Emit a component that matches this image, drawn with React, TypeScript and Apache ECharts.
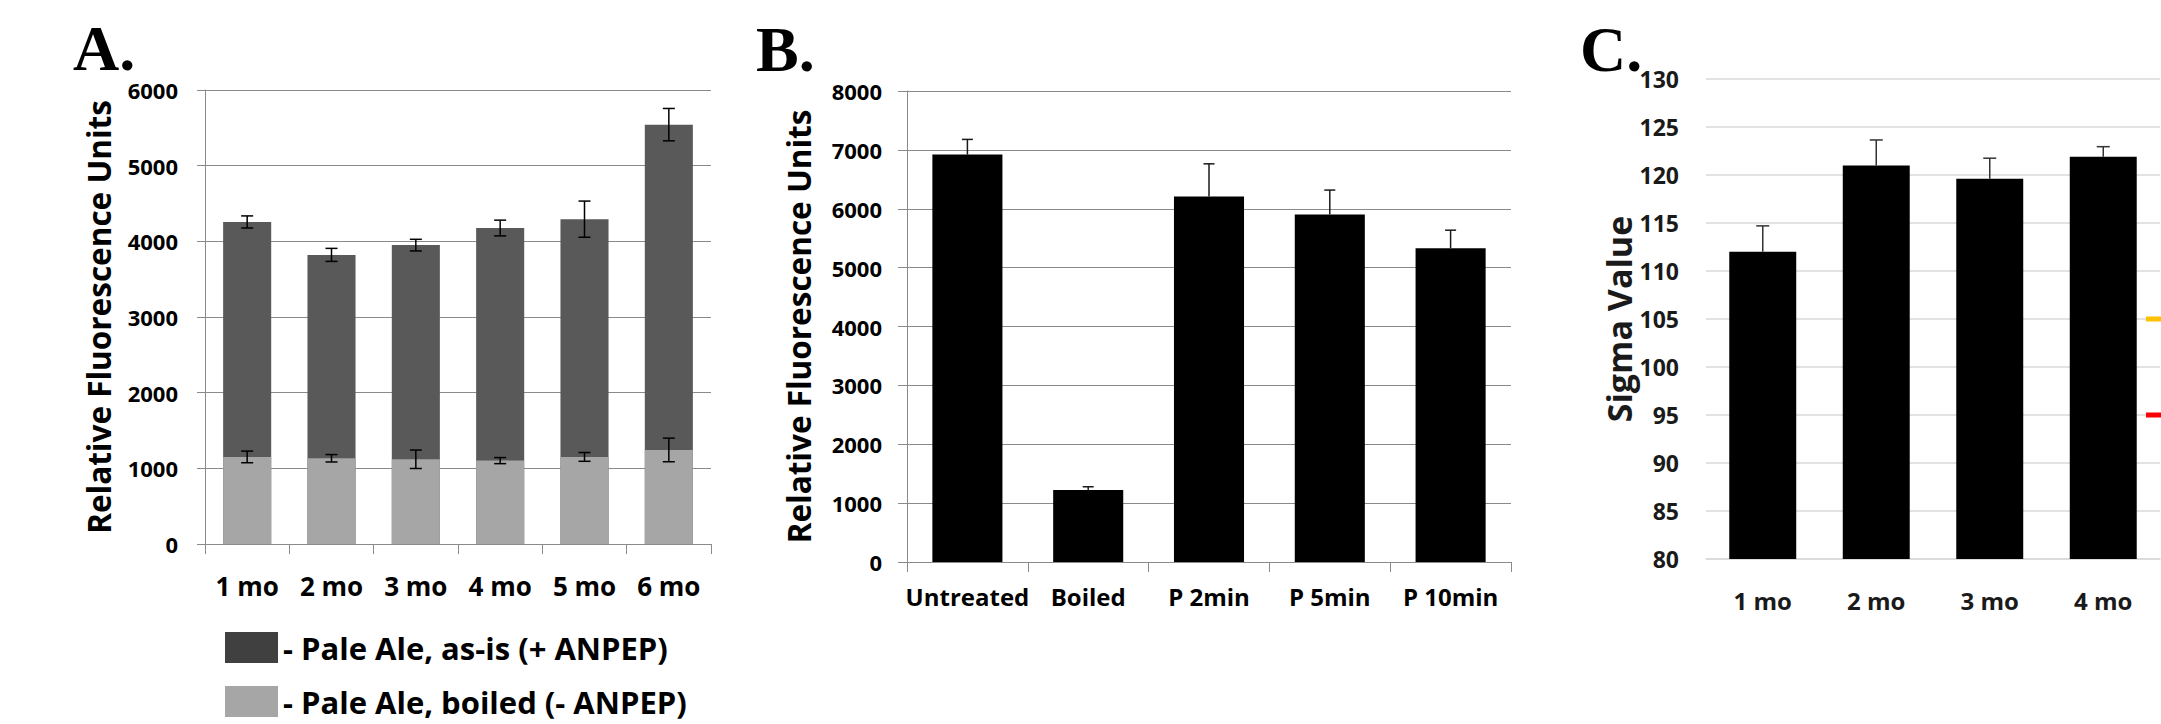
import React, { useEffect, useRef } from 'react';
import * as echarts from 'echarts';

// ---- Panel A data ----
const monthsA = ['1 mo', '2 mo', '3 mo', '4 mo', '5 mo', '6 mo'];
const asIsValues = [4256, 3821, 3950, 4176, 4293, 5542];
const asIsErrors = [80, 86, 77, 104, 239, 214];
const boiledValues = [1151, 1133, 1120, 1102, 1151, 1243];
const boiledErrors = [77, 49, 122, 40, 58, 156];
const legendNames = ['- Pale Ale, as-is (+ ANPEP)', '- Pale Ale, boiled (- ANPEP)'];
const legendColors = ['#404040', '#a6a6a6'];

// ---- Panel B data ----
const treatmentsB = ['Untreated', 'Boiled', 'P 2min', 'P 5min', 'P 10min'];
const rfuB = [6920, 1221, 6207, 5902, 5331];
const rfuErrB = [258, 57, 556, 415, 305];

// ---- Panel C data ----
const monthsC = ['1 mo', '2 mo', '3 mo', '4 mo'];
const sigmaC = [112.0, 121.0, 119.6, 121.9];
const sigmaErrC = [2.7, 2.65, 2.15, 1.05];
const thresholdsC = [105, 95];
const thresholdColors = ['#ffc000', '#ff0000'];

const panelLetters = ['A.', 'B.', 'C.'];

const FONT = "'Open Sans', 'DejaVu Sans', sans-serif";
const SERIF = "'Liberation Serif', 'DejaVu Serif', serif";
const GRAY = '#8a8a8a';
const LIGHTGRID = '#d9d9d9';

function errorRenderer(cap: number, both: boolean, color: string, width: number) {
  return (params: any, api: any) => {
    const i = api.value(0);
    const lo = api.coord([i, api.value(1)]);
    const hi = api.coord([i, api.value(2)]);
    const style = { stroke: color, lineWidth: width };
    const children: any[] = [
      { type: 'line', shape: { x1: lo[0], y1: lo[1], x2: hi[0], y2: hi[1] }, style },
      { type: 'line', shape: { x1: hi[0] - cap / 2, y1: hi[1], x2: hi[0] + cap / 2, y2: hi[1] }, style },
    ];
    if (both) {
      children.push({ type: 'line', shape: { x1: lo[0] - cap / 2, y1: lo[1], x2: lo[0] + cap / 2, y2: lo[1] }, style });
    }
    return { type: 'group', children };
  };
}

const labelStyle = (size: number, color = '#000') => ({
  fontFamily: FONT,
  fontWeight: 'bold' as const,
  fontSize: size,
  color,
});

const plain = (v: number) => String(v);

export default function App() {
  const ref = useRef<HTMLDivElement>(null);

  useEffect(() => {
    if (!ref.current) return;
    const chart = echarts.init(ref.current, undefined, { renderer: 'svg' });

    const legendTops = [632, 686];
    const option: any = {
      animation: false,
      backgroundColor: '#ffffff',
      legend: legendNames.map((name, i) => ({
        orient: 'vertical',
        left: 225,
        top: legendTops[i],
        padding: 0,
        itemWidth: 53,
        itemHeight: 31,
        icon: 'rect',
        selectedMode: false,
        textStyle: { ...labelStyle(31), lineHeight: 31 },
        data: [{ name, itemStyle: { color: legendColors[i] } }],
      })),
      grid: [
        { left: 205, top: 90, width: 506, height: 454 },
        { left: 907, top: 91, width: 604, height: 471 },
        { left: 1706, top: 79, width: 454, height: 480 },
      ],
      xAxis: [
        {
          gridIndex: 0,
          type: 'category',
          data: monthsA,
          axisLine: { lineStyle: { color: GRAY, width: 1 } },
          axisTick: { show: true, length: 10, lineStyle: { color: GRAY } },
          axisLabel: { ...labelStyle(26), margin: 29, interval: 0 },
        },
        {
          gridIndex: 1,
          type: 'category',
          data: treatmentsB,
          axisLine: { lineStyle: { color: GRAY, width: 1 } },
          axisTick: { show: true, length: 10, lineStyle: { color: GRAY } },
          axisLabel: { ...labelStyle(24), margin: 22, interval: 0 },
        },
        {
          gridIndex: 2,
          type: 'category',
          data: monthsC,
          axisLine: { show: true, lineStyle: { color: LIGHTGRID, width: 1.5 } },
          axisTick: { show: false },
          axisLabel: { ...labelStyle(24, '#1a1a1a'), margin: 29, interval: 0 },
        },
      ],
      yAxis: [
        {
          gridIndex: 0,
          type: 'value',
          min: 0,
          max: 6000,
          interval: 1000,
          axisLine: { show: true, lineStyle: { color: GRAY, width: 1 } },
          axisTick: { show: true, length: 8, lineStyle: { color: GRAY } },
          splitLine: { lineStyle: { color: GRAY, width: 1 } },
          axisLabel: { ...labelStyle(22), margin: 27, formatter: plain },
          name: 'Relative Fluorescence Units',
          nameLocation: 'middle',
          nameGap: 91,
          nameTextStyle: labelStyle(31.5),
        },
        {
          gridIndex: 1,
          type: 'value',
          min: 0,
          max: 8000,
          interval: 1000,
          axisLine: { show: true, lineStyle: { color: GRAY, width: 1 } },
          axisTick: { show: true, length: 9, lineStyle: { color: GRAY } },
          splitLine: { lineStyle: { color: GRAY, width: 1 } },
          axisLabel: { ...labelStyle(22), margin: 25, formatter: plain },
          name: 'Relative Fluorescence Units',
          nameLocation: 'middle',
          nameGap: 93,
          nameTextStyle: labelStyle(31.5),
        },
        {
          gridIndex: 2,
          type: 'value',
          min: 80,
          max: 130,
          interval: 5,
          axisLine: { show: false },
          axisTick: { show: false },
          splitLine: { lineStyle: { color: LIGHTGRID, width: 1.5 } },
          axisLabel: { ...labelStyle(23, '#1a1a1a'), margin: 27, formatter: plain },
          name: 'Sigma Value',
          nameLocation: 'middle',
          nameGap: 66,
          nameTextStyle: labelStyle(34, '#1a1a1a'),
        },
      ],
      series: [
        {
          name: legendNames[0],
          type: 'bar',
          xAxisIndex: 0,
          yAxisIndex: 0,
          data: asIsValues,
          barWidth: '57%',
          itemStyle: { color: '#595959' },
        },
        {
          name: legendNames[1],
          type: 'bar',
          xAxisIndex: 0,
          yAxisIndex: 0,
          data: boiledValues,
          barWidth: '57%',
          barGap: '-100%',
          itemStyle: { color: '#a6a6a6' },
        },
        {
          type: 'custom',
          xAxisIndex: 0,
          yAxisIndex: 0,
          z: 5,
          renderItem: errorRenderer(12, true, '#000', 1.5),
          encode: { x: 0, y: [1, 2] },
          data: asIsValues.map((v, i) => [i, v - asIsErrors[i], v + asIsErrors[i]]),
        },
        {
          type: 'custom',
          xAxisIndex: 0,
          yAxisIndex: 0,
          z: 5,
          renderItem: errorRenderer(12, true, '#000', 1.5),
          encode: { x: 0, y: [1, 2] },
          data: boiledValues.map((v, i) => [i, v - boiledErrors[i], v + boiledErrors[i]]),
        },
        {
          type: 'bar',
          xAxisIndex: 1,
          yAxisIndex: 1,
          data: rfuB,
          barWidth: '58%',
          itemStyle: { color: '#000' },
        },
        {
          type: 'custom',
          xAxisIndex: 1,
          yAxisIndex: 1,
          z: 5,
          renderItem: errorRenderer(11, false, '#1a1a1a', 1.5),
          encode: { x: 0, y: [1, 2] },
          data: rfuB.map((v, i) => [i, v, v + rfuErrB[i]]),
        },
        {
          type: 'bar',
          xAxisIndex: 2,
          yAxisIndex: 2,
          data: sigmaC,
          barWidth: '59%',
          itemStyle: { color: '#000' },
        },
        {
          type: 'custom',
          xAxisIndex: 2,
          yAxisIndex: 2,
          z: 5,
          renderItem: errorRenderer(13, false, '#333', 1.5),
          encode: { x: 0, y: [1, 2] },
          data: sigmaC.map((v, i) => [i, v, v + sigmaErrC[i]]),
        },
      ],
    };

    chart.setOption(option);

    const letterPos = [
      [73, 48],
      [756, 49],
      [1580, 49],
    ];
    const graphics: any[] = panelLetters.map((t, i) => ({
      type: 'text',
      x: letterPos[i][0],
      y: letterPos[i][1],
      style: {
        text: t,
        fontFamily: SERIF,
        fontWeight: 'bold',
        fontSize: 64,
        fill: '#000',
        verticalAlign: 'middle',
        align: 'left',
      },
    }));
    thresholdsC.forEach((v, i) => {
      const y = chart.convertToPixel({ yAxisIndex: 2 } as any, v) as unknown as number;
      graphics.push({
        type: 'line',
        shape: { x1: 2146, y1: y, x2: 2161, y2: y },
        style: { stroke: thresholdColors[i], lineWidth: 5 },
        z: 10,
      });
    });
    chart.setOption({ graphic: graphics });

    return () => chart.dispose();
  }, []);

  return (
    <div
      ref={ref}
      style={{ position: 'fixed', left: 0, top: 0, width: 2161, height: 724, background: '#fff' }}
    />
  );
}
